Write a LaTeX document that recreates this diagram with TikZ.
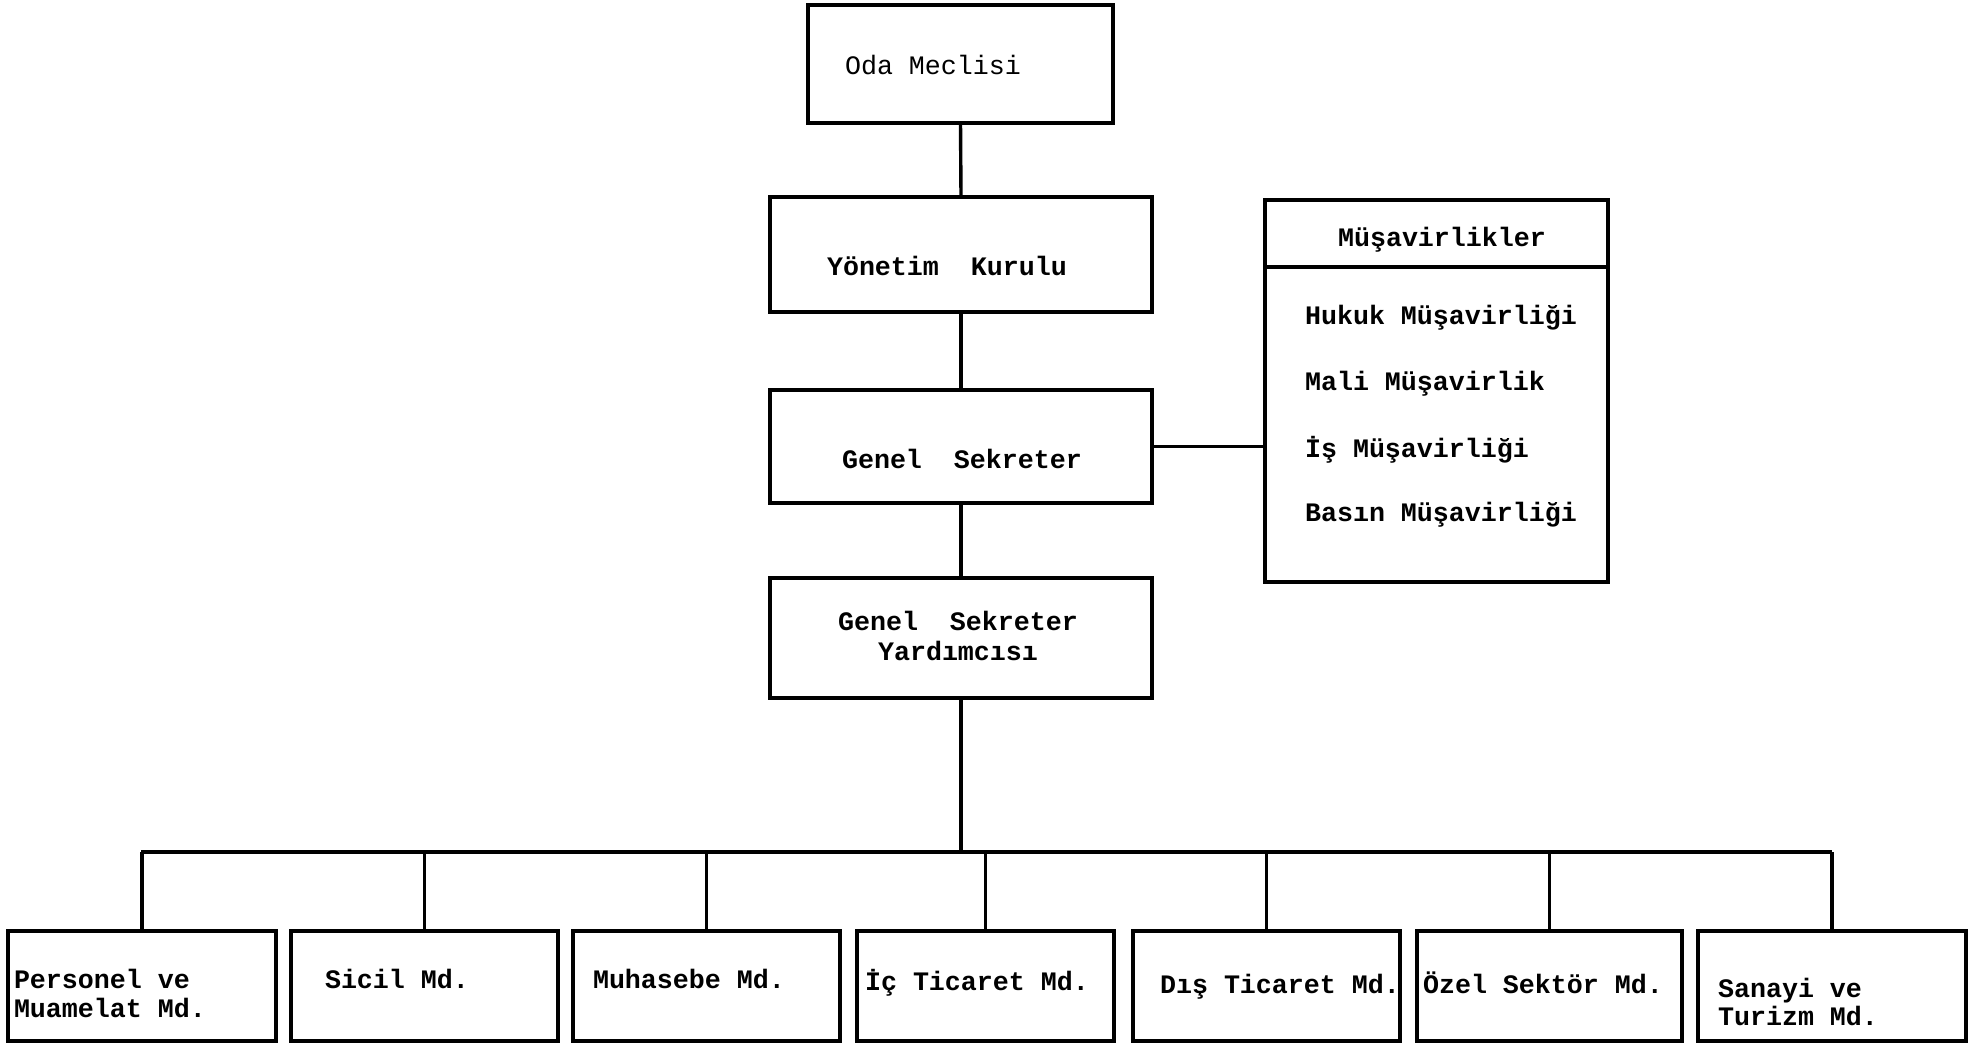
\documentclass[tikz,border=0pt]{standalone}
\usepackage{fontspec}
\newfontfamily\tw{Liberation Mono}
\begin{document}
\begin{tikzpicture}[x=0.5pt,y=-0.5pt,
  box/.style={draw=black,line width=2.1pt,fill=none,inner sep=0pt,outer sep=0pt},
  link/.style={draw=black,line width=1.7pt},
  lbl/.style={inner sep=0pt,outer sep=0pt,anchor=base west,font={\tw\bfseries\fontsize{13.33pt}{15pt}\selectfont}},
  lbllight/.style={lbl,font={\tw\fontsize{13.33pt}{15pt}\selectfont}},
  bottombox/.style={box,minimum height=55pt}]
\useasboundingbox (0,0) rectangle (1975,1045);
% top chain
\node[box,minimum width=152.5pt,minimum height=59pt] (oda) at (960.5,64) {};
\node[box,minimum width=191pt,minimum height=57.5pt] (yk) at (961,254.5) {};
\node[box,minimum width=191pt,minimum height=56.5pt] (gs) at (961,446.5) {};
\node[box,minimum width=191pt,minimum height=60pt] (gsy) at (961,638) {};
\node[box,minimum width=171.5pt,minimum height=191pt] (mus) at (1436.5,391) {};
% bottom row
\node[bottombox,minimum width=134pt] (b1) at (142,986) {};
\node[bottombox,minimum width=133.5pt] (b2) at (424.5,986) {};
\node[bottombox,minimum width=133.5pt] (b3) at (706.5,986) {};
\node[bottombox,minimum width=128.5pt] (b4) at (985.5,986) {};
\node[bottombox,minimum width=133.5pt] (b5) at (1266.5,986) {};
\node[bottombox,minimum width=132.5pt] (b6) at (1549.5,986) {};
\node[bottombox,minimum width=134pt] (b7) at (1832,986) {};
% texts
\node[lbllight] (t-oda) at (845,74) {Oda Meclisi};
\node[lbl] (t-yk) at (827,275) {Yönetim\ \ Kurulu};
\node[lbl] (t-gs) at (842,468) {Genel\ \ Sekreter};
\node[lbl,anchor=base,align=center] (t-gsy) at (958,660) {Genel\ \ Sekreter\\Yardımcısı};
\node[lbl] (t-mus) at (1338,246) {Müşavirlikler};
\node[lbl] (t-m1) at (1305,324) {Hukuk Müşavirliği};
\node[lbl] (t-m2) at (1305,390) {Mali Müşavirlik};
\node[lbl] (t-m3) at (1305,457) {İş Müşavirliği};
\node[lbl] (t-m4) at (1305,521) {Basın Müşavirliği};
\node[lbl,align=left,font={\tw\bfseries\fontsize{13.33pt}{14.5pt}\selectfont}] (t-b1) at (14,1017) {Personel ve\\Muamelat Md.};
\node[lbl] (t-b2) at (325,988) {Sicil Md.};
\node[lbl] (t-b3) at (593,988) {Muhasebe Md.};
\node[lbl] (t-b4) at (865,990) {İç Ticaret Md.};
\node[lbl] (t-b5) at (1160,993) {Dış Ticaret Md.};
\node[lbl] (t-b6) at (1423,993) {Özel Sektör Md.};
\node[lbl,align=left,font={\tw\bfseries\fontsize{13.33pt}{14pt}\selectfont}] (t-b7) at (1718,1025) {Sanayi ve\\Turizm Md.};
% connectors
\draw[link] (oda.south) -- (yk.north);
\draw[link] (yk.south) -- (gs.north);
\draw[link] (gs.south) -- (gsy.north);
\draw[link] (gs.east) -- (gs.east -| mus.west);
\draw[box] (mus.west |- 0,267) -- (mus.east |- 0,267);
\coordinate (busL) at (143,852);
\coordinate (busR) at (1830,852);
\draw[link] (gsy.south) -- (gsy.south |- busL);
\draw[link,line cap=rect] (busL) -- (busR);
\foreach \b in {b1,b2,b3,b4,b5,b6,b7} {
  \draw[link] (\b.north |- busL) -- (\b.north);
}
\end{tikzpicture}
\end{document}
